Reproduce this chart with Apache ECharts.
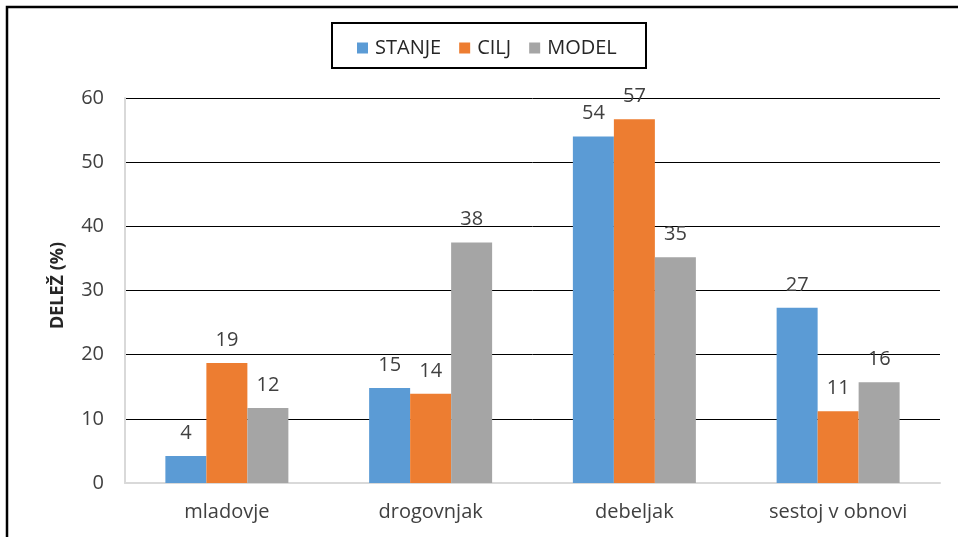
<!DOCTYPE html>
<html>
<head>
<meta charset="utf-8">
<script src="https://cdn.jsdelivr.net/npm/echarts@6/dist/echarts.min.js"></script>
<style>
  html, body { margin: 0; padding: 0; background: #fff; }
  #main { width: 958px; height: 537px; }
</style>
</head>
<body>
<div id="main"></div>
<script>
var kategorije = ['mladovje', 'drogovnjak', 'debeljak', 'sestoj v obnovi'];
var stanje = [4.2, 14.8, 54.0, 27.3];
var cilj = [18.7, 13.9, 56.7, 11.2];
var model = [11.7, 37.5, 35.2, 15.7];
var yTicks = [0, 10, 20, 30, 40, 50, 60];

var font = '"Open Sans", "Liberation Sans", sans-serif';
var textColor = '#404040';

var myChart = echarts.init(document.getElementById('main'));

function serija(name, data, color) {
    return {
        name: name,
        type: 'bar',
        data: data,
        barWidth: 41,
        barGap: '0%',
        itemStyle: { color: color },
        label: {
            show: true,
            position: 'top',
            distance: 13,
            fontFamily: font,
            fontSize: 20,
            color: textColor,
            formatter: function (p) { return Math.round(p.value); }
        }
    };
}

option = {
    animation: false,
    backgroundColor: '#fff',
    textStyle: { fontFamily: font },
    graphic: [
        {
            type: 'rect',
            shape: { x: 7, y: 7, width: 1000, height: 600 },
            style: { fill: 'none', stroke: '#000', lineWidth: 2.5 }
        },
        {
            type: 'rect',
            shape: { x: 332, y: 23, width: 314, height: 45 },
            style: { fill: 'none', stroke: '#000', lineWidth: 2 }
        }
    ],
    legend: {
        left: 352,
        top: 33,
        itemWidth: 11,
        itemHeight: 11,
        itemGap: 18,
        icon: 'rect',
        textStyle: { fontFamily: font, fontSize: 20, color: '#262626', padding: [0, 0, 0, 2] }
    },
    grid: { left: 125, right: 18, top: 98, bottom: 54 },
    xAxis: {
        type: 'category',
        data: kategorije,
        axisLine: { lineStyle: { color: '#d9d9d9', width: 2 } },
        axisTick: { show: false },
        axisLabel: { fontFamily: font, fontSize: 20, color: textColor, margin: 19 }
    },
    yAxis: {
        type: 'value',
        min: yTicks[0],
        max: yTicks[yTicks.length - 1],
        interval: 10,
        name: 'DELEŽ (%)',
        nameLocation: 'middle',
        nameRotate: 90,
        nameGap: 58,
        nameMoveOverlap: false,
        nameTextStyle: { fontFamily: font, fontSize: 18, fontWeight: 'bold', color: '#262626', padding: [0, 0, 0, 10] },
        axisLine: { show: true, lineStyle: { color: '#d9d9d9', width: 2 } },
        axisTick: { show: false },
        axisLabel: { fontFamily: font, fontSize: 20, color: textColor, margin: 21 },
        splitLine: {
            show: true,
            lineStyle: { color: ['#d9d9d9', '#000', '#000', '#000', '#000', '#000', '#000'], width: 1 }
        }
    },
    series: [
        serija('STANJE', stanje, '#5b9bd5'),
        serija('CILJ', cilj, '#ed7d31'),
        serija('MODEL', model, '#a5a5a5')
    ]
};
myChart.setOption(option);
</script>
</body>
</html>
